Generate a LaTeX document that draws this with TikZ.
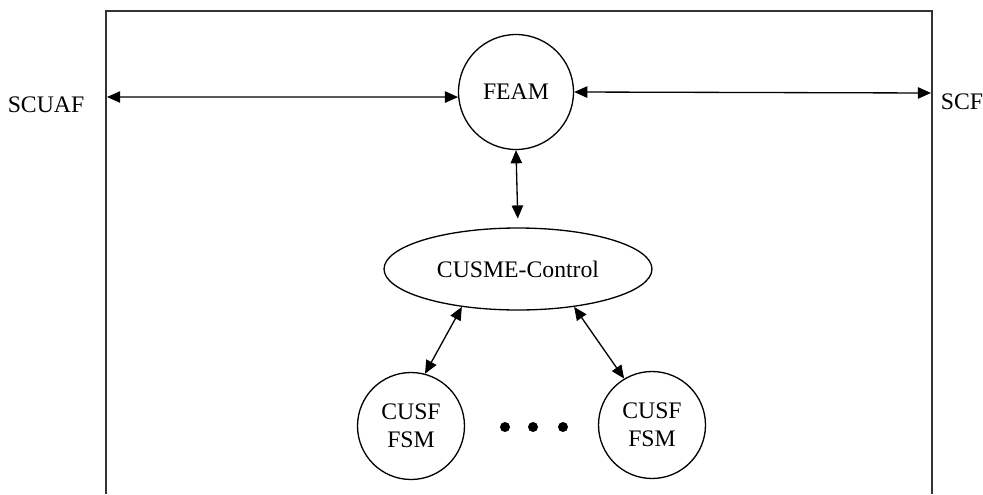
\documentclass[tikz,border=0pt]{standalone}
\usepackage{fontspec}
\setmainfont{Liberation Serif}
\usetikzlibrary{arrows.meta,shapes.geometric}

\begin{document}
\begin{tikzpicture}[x=0.02cm, y=-0.02cm, line width=0.75pt,
		every node/.style={font=\fontsize{13.5}{16}\selectfont},
		proc/.style={draw, circle, inner sep=0pt, minimum size=2.14cm, align=center},
		ctrl/.style={draw, ellipse, inner sep=0pt, minimum width=5.36cm, minimum height=1.64cm},
		biarrow/.style={{Triangle[length=7.5pt,width=6.5pt]}-{Triangle[length=7.5pt,width=6.5pt]}}]
		\useasboundingbox (0,0) rectangle (983,494);
		\coordinate (BL) at (106,494);
		\coordinate (TL) at (106,11);
		\coordinate (TR) at (932,11);
		\coordinate (BR) at (932,494);
		\draw[black!80] (BL) -- (TL) -- (TR) -- (BR);

		\node[proc, minimum size=2.3cm] (feam) at (516,92) {FEAM};
		\node[ctrl] (ctl) at (518,269) {CUSME-Control};
		\node[proc] (cusfl) at (411,426) {CUSF\\FSM};
		\node[proc] (cusfr) at (652,425) {CUSF\\FSM};

		\node (scuaf) at (46,105) {SCUAF};
		\node (scf) at (962,102) {SCF};

		\coordinate (L) at (107,97);
		\coordinate (R) at (931,93);
		\draw[biarrow] (L) -- (feam.185);
		\draw[biarrow] (feam.east) -- (R);
		\draw[biarrow, shorten >=5pt] (feam.south) -- (ctl.north);
		\draw[biarrow] (ctl.214) -- (cusfl.75);
		\draw[biarrow] (ctl.326) -- (cusfr.121);

		\foreach \x in {505,533,563}
			\fill (\x,427) circle (5);
\end{tikzpicture}
\end{document}
